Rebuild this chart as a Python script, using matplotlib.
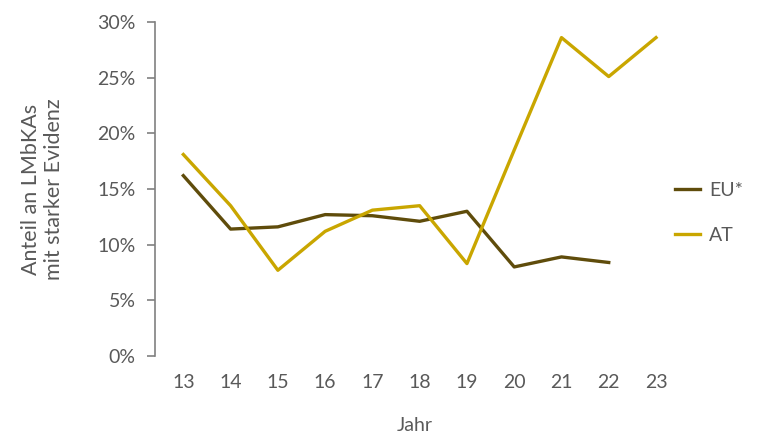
import matplotlib.pyplot as plt
import numpy as np

plt.rcParams['font.family'] = ['Lato', 'DejaVu Sans']

jahre = [13, 14, 15, 16, 17, 18, 19, 20, 21, 22, 23]
eu = [16.2, 11.4, 11.6, 12.7, 12.6, 12.1, 13.0, 8.0, 8.9, 8.4, np.nan]
at = [18.1, 13.5, 7.7, 11.2, 13.1, 13.5, 8.3, 18.5, 28.6, 25.1, 28.6]
yticks = [0, 5, 10, 15, 20, 25, 30]

grey = '#595959'
fig = plt.figure(figsize=(7.68, 4.36), dpi=100)
ax = fig.add_axes([0.2018, 0.1835, 0.677, 0.766])

ax.plot(jahre, eu, color='#5f4c0b', lw=2.4, label='EU*')
ax.plot(jahre, at, color='#c9a600', lw=2.4, label='AT')

ax.set_xlim(12.4, 23.4)
ax.set_ylim(0, 30)
ax.set_xticks(jahre)
ax.set_yticks(yticks)
ax.set_yticklabels([f'{t}%' for t in yticks])
for s in ['top', 'right', 'bottom']:
    ax.spines[s].set_visible(False)
ax.spines['left'].set_color('#808080')
ax.spines['left'].set_linewidth(1.2)
ax.tick_params(axis='y', colors='#808080', labelcolor=grey, labelsize=14, length=6, width=1.2, pad=8)
ax.tick_params(axis='x', length=0, labelcolor=grey, labelsize=14, pad=13)

ax.set_xlabel('Jahr', color=grey, fontsize=14, labelpad=19)
ax.set_ylabel('Anteil an LMbKAs\nmit starker Evidenz', color=grey, fontsize=15.5, labelpad=24)

ax.legend(loc='center left', bbox_to_anchor=(1.0, 0.428), frameon=False, fontsize=14,
          labelcolor=grey, handlelength=1.3, handletextpad=0.45, labelspacing=1.45,
          borderaxespad=0, borderpad=0)

fig.savefig('out.png', dpi=100)
